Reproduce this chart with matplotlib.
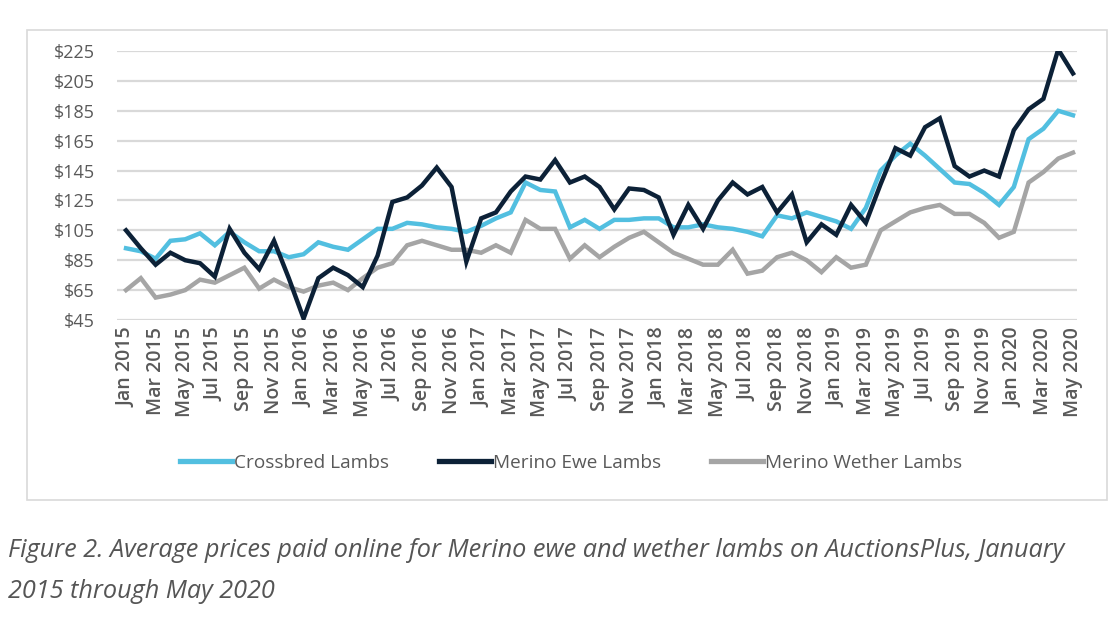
import matplotlib
matplotlib.use("Agg")
import matplotlib.pyplot as plt
from matplotlib.patches import Rectangle
from matplotlib.lines import Line2D

months = ["Jan", "Feb", "Mar", "Apr", "May", "Jun", "Jul", "Aug", "Sep", "Oct", "Nov", "Dec"]
dates = [f"{months[m]} {y}" for y in range(2015, 2021) for m in range(12)][:65]

crossbred = [93, 91, 86, 98, 99, 103, 95, 104, 97, 91, 91, 87, 89, 97, 94, 92, 99, 106, 106, 110,
             109, 107, 106, 104, 108, 113, 117, 137, 132, 131, 107, 112, 106, 112, 112, 113, 113, 107,
             107, 109, 107, 106, 104, 101, 115, 113, 117, 114, 111, 106, 120, 145, 155, 163, 155, 146,
             137, 136, 130, 122, 134, 166, 173, 185, 182]
merino_ewe = [105, 93, 82, 90, 85, 83, 74, 106, 90, 79, 98, 73, 46, 73, 80, 75, 67, 88, 124, 127,
              135, 147, 134, 84, 113, 117, 131, 141, 139, 152, 137, 141, 134, 119, 133, 132, 127, 102,
              122, 106, 125, 137, 129, 134, 117, 129, 97, 109, 102, 122, 110, 136, 160, 155, 174, 180,
              148, 141, 145, 141, 172, 186, 193, 226, 210]
merino_wether = [65, 73, 60, 62, 65, 72, 70, 75, 80, 66, 72, 67, 64, 68, 70, 65, 73, 80, 83, 95,
                 98, 95, 92, 92, 90, 95, 90, 112, 106, 106, 86, 95, 87, 94, 100, 104, 97, 90,
                 86, 82, 82, 92, 76, 78, 87, 90, 85, 77, 87, 80, 82, 105, 111, 117, 120, 122,
                 116, 116, 110, 100, 104, 137, 144, 153, 157]
y_ticks = [45, 65, 85, 105, 125, 145, 165, 185, 205, 225]
series_names = ["Crossbred Lambs", "Merino Ewe Lambs", "Merino Wether Lambs"]
caption = ("Figure 2. Average prices paid online for Merino ewe and wether lambs on AuctionsPlus, January\n"
           "2015 through May 2020")

colors = ["#52bfe0", "#0c2137", "#a5a5a5"]
tick_color = "#595959"

fig = plt.figure(figsize=(11.11, 6.22), dpi=100)
fig.patch.set_facecolor("white")

# outer chart border
fig.patches.append(Rectangle((27 / 1111, 1 - 500 / 622), (1107 - 27) / 1111, (500 - 30) / 622,
                             transform=fig.transFigure, fill=False, edgecolor="#d9d9d9", linewidth=1.2))

ax = fig.add_axes([117 / 1111, 1 - 320 / 622, (1077 - 117) / 1111, (320 - 51) / 622])
x = list(range(len(dates)))
ax.plot(x, crossbred, color=colors[0], lw=3.2, label=series_names[0], zorder=3, solid_joinstyle="miter")
ax.plot(x, merino_wether, color=colors[2], lw=3.2, label=series_names[2], zorder=2, solid_joinstyle="miter")
ax.plot(x, merino_ewe, color=colors[1], lw=3.2, label=series_names[1], zorder=4, solid_joinstyle="miter")

ax.set_xlim(-0.61, 64.27)
ax.set_ylim(45, 225)
ax.set_yticks(y_ticks)
ax.set_yticklabels([f"${v}" for v in y_ticks], fontsize=13, color=tick_color, family="Open Sans")
ax.set_xticks(x[::2])
ax.set_xticklabels(dates[::2], rotation=90, fontsize=14, color=tick_color, family="Open Sans",
                   fontweight="semibold")
ax.tick_params(axis="both", length=0)
ax.tick_params(axis="x", pad=5)
ax.tick_params(axis="y", pad=16)
ax.grid(axis="y", color="#d9d9d9", linewidth=1.6)
ax.set_axisbelow(True)
for s in ax.spines.values():
    s.set_visible(False)

handles = [Line2D([0], [0], color=c, lw=3.8) for c in colors]
fig.legend(handles, series_names, loc="center", bbox_to_anchor=(571 / 1111, 1 - 463 / 622),
           ncol=3, frameon=False, prop={"family": "Open Sans", "size": 13.7},
           labelcolor=tick_color, handlelength=2.75, handletextpad=0.1, columnspacing=2.6)

fig.text(8 / 1111, 1 - 571 / 622, caption, fontsize=18.2, style="italic", color="#555555",
         family="Open Sans", linespacing=1.85, va="center", ha="left")

fig.savefig("out.png", dpi=100, facecolor="white")
